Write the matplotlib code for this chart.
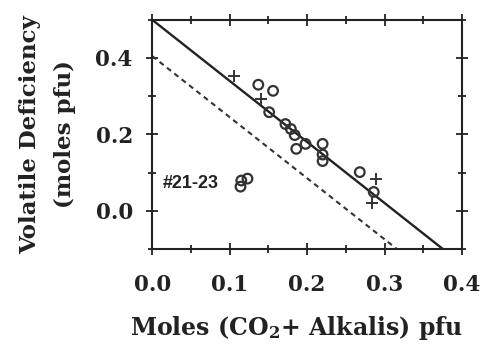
import matplotlib.pyplot as plt
import numpy as np
from matplotlib.ticker import MultipleLocator

plt.rcParams['font.family'] = 'DejaVu Serif'
plt.rcParams['font.weight'] = 'bold'
plt.rcParams['axes.labelweight'] = 'bold'
plt.rcParams['mathtext.fontset'] = 'dejavuserif'

# open circles: analysed samples
circ_x = [0.137, 0.156, 0.151, 0.172, 0.179, 0.184, 0.198, 0.186, 0.220, 0.220, 0.220, 0.268, 0.286]
circ_y = [0.330, 0.314, 0.258, 0.227, 0.214, 0.198, 0.175, 0.162, 0.175, 0.147, 0.130, 0.101, 0.049]
# samples #21-23
grp_x = [0.115, 0.123, 0.114]
grp_y = [0.079, 0.084, 0.063]
# crosses
cross_x = [0.105, 0.140, 0.289, 0.284]
cross_y = [0.353, 0.292, 0.084, 0.020]

# reference lines y = a - 1.6 x
slope = -1.6
solid_int = 0.50
dash_int = 0.405

fig = plt.figure(figsize=(4.91, 3.54), dpi=100)
ax = fig.add_axes([0.31, 0.297, 0.631, 0.647])

xx = np.array([0.0, 0.4])
ax.plot(xx, solid_int + slope * xx, color='#222222', lw=1.7)
ax.plot(xx, dash_int + slope * xx, color='#333333', lw=1.5, ls=(0, (2.5, 2)))

ax.scatter(circ_x, circ_y, s=48, facecolors='none', edgecolors='#333333', linewidths=1.6, zorder=3)
ax.scatter(grp_x, grp_y, s=48, facecolors='none', edgecolors='#333333', linewidths=1.6, zorder=3)
ax.scatter(cross_x, cross_y, s=80, marker='+', color='#333333', linewidths=1.4, zorder=3)
ax.text(0.013, 0.071, '#21-23', fontsize=13, va='center', ha='left', color='#222222',
        family='Liberation Sans', weight='bold')

ax.set_xlim(0, 0.4)
ax.set_ylim(-0.1, 0.5)
ax.xaxis.set_major_locator(MultipleLocator(0.1))
ax.xaxis.set_minor_locator(MultipleLocator(0.05))
ax.yaxis.set_major_locator(MultipleLocator(0.2))
ax.yaxis.set_minor_locator(MultipleLocator(0.1))
ax.tick_params(which='both', direction='inout', top=True, right=True, width=1.3, colors='#222222')
ax.tick_params(which='major', length=8, labelsize=15.5)
ax.tick_params(which='minor', length=6)
ax.tick_params(axis='x', which='major', pad=14)
ax.tick_params(axis='y', which='major', pad=10)
for s in ax.spines.values():
    s.set_linewidth(1.5)
    s.set_color('#222222')
ax.set_yticks([0.0, 0.2, 0.4])
ax.set_yticklabels(['0.0', '0.2', '0.4'])

ax.set_xlabel('Moles (CO$_{\\mathbf{2}}$+ Alkalis) pfu', fontsize=17, color='#222222')
ax.set_ylabel('Volatile Deficiency\n(moles pfu)', fontsize=16.5, color='#222222', linespacing=1.75)
ax.xaxis.set_label_coords(0.465, -0.285)
ax.yaxis.set_label_coords(-0.245, 0.5)

fig.savefig('out.png', dpi=100)
